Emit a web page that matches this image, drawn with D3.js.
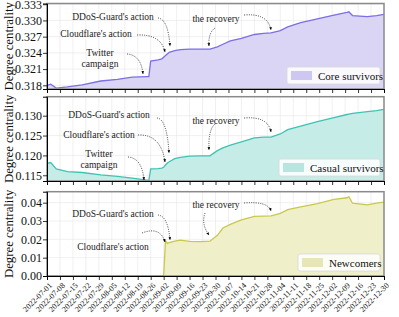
<!DOCTYPE html>
<html><head><meta charset="utf-8">
<script src="https://cdn.jsdelivr.net/npm/d3@7"></script>
<style>body{margin:0;background:#fff}svg{display:block}text{font-family:"Liberation Serif","Times New Roman",serif}</style>
</head><body><svg id="c" width="399" height="317"></svg>
<script>
const dates = ["2022-07-01","2022-07-03","2022-07-06","2022-07-12","2022-07-20","2022-07-30","2022-08-08","2022-08-16","2022-08-24","2022-08-25","2022-08-26","2022-08-30","2022-09-01","2022-09-02","2022-09-03","2022-09-04","2022-09-05","2022-09-08","2022-09-11","2022-09-16","2022-09-22","2022-09-27","2022-10-01","2022-10-04","2022-10-08","2022-10-14","2022-10-21","2022-10-26","2022-10-30","2022-11-04","2022-11-08","2022-11-15","2022-11-24","2022-12-03","2022-12-10","2022-12-11","2022-12-13","2022-12-21","2022-12-26","2022-12-30"];
const coreValues = [0.3180,0.3182,0.3175,0.3177,0.3181,0.3188,0.3191,0.3195,0.3196,0.3196,0.3225,0.3227,0.3229,0.3232,0.3235,0.3238,0.3241,0.3244,0.3246,0.3247,0.3247,0.3247,0.3251,0.3256,0.3262,0.3267,0.3274,0.3276,0.3277,0.3281,0.3288,0.3296,0.3303,0.3310,0.3315,0.3316,0.3309,0.3307,0.3309,0.3311];
const casualValues = [0.1180,0.1182,0.1166,0.1159,0.1157,0.1151,0.1147,0.1143,0.1138,0.1137,0.1166,0.1167,0.1168,0.1170,0.1176,0.1181,0.1184,0.1192,0.1195,0.1198,0.1199,0.1199,0.1212,0.1219,0.1226,0.1234,0.1244,0.1246,0.1246,0.1254,0.1265,0.1274,0.1285,0.1295,0.1303,0.1304,0.1306,0.1310,0.1313,0.1316];
const newValues = [0,0,0,0,0,0,0,0,0,0,0,0,0,0,0.0193,0.0178,0.0182,0.0190,0.0196,0.0189,0.0188,0.0190,0.0222,0.0262,0.0282,0.0306,0.0325,0.0327,0.0328,0.0342,0.0362,0.0377,0.0395,0.0418,0.0427,0.0433,0.0397,0.0388,0.0398,0.0403];
const tickDates = ["2022-07-01","2022-07-08","2022-07-15","2022-07-22","2022-07-29","2022-08-05","2022-08-12","2022-08-19","2022-08-26","2022-09-02","2022-09-09","2022-09-16","2022-09-23","2022-09-30","2022-10-07","2022-10-14","2022-10-21","2022-10-28","2022-11-04","2022-11-11","2022-11-18","2022-11-25","2022-12-02","2022-12-09","2022-12-16","2022-12-23","2022-12-30"];
const coreTicks = [0.318,0.321,0.324,0.327,0.330,0.333];
const casualTicks = [0.115,0.120,0.125,0.130];
const newTicks = [0.00,0.01,0.02,0.03,0.04];
const seriesNames = ["Core survivors","Casual survivors","Newcomers"];

const parse = d3.utcParse("%Y-%m-%d");
const svg = d3.select("#c");
const L = 47, R = 384;
const x = d3.scaleUtc().domain([parse("2022-07-01"), parse("2022-12-30")]).range([L, R]);

const panels = [
  {vals: coreValues, ticks: coreTicks, fmt: ".3f", dom: [0.31732, 0.33313], top: 3.5, bot: 89, line: "#7b6ee6", fill: "#dad5f5", sw: "#cdc7f2", legW: 93, name: seriesNames[0],
   ann: [
     {t:["DDoS-Guard's action"], x:113, y:20},
     {t:["Cloudflare's action"], x:96, y:37},
     {t:["Twitter","campaign"], x:100, y:56},
     {t:["the recovery"], x:216, y:22}
   ],
   arr: [[158,18,168,19,170,46],[137,35,161,34,165,52],[127,54,141,55,143,74],[244,15,268,13,271,30],[215,28,208,33,209,46]]},
  {vals: casualValues, ticks: casualTicks, fmt: ".3f", dom: [0.11356, 0.13478], top: 96.7, bot: 181, line: "#3fc2b3", fill: "#c6ece7", sw: "#b7e6e0", legW: 101, name: seriesNames[1],
   ann: [
     {t:["DDoS-Guard's action"], x:109, y:118},
     {t:["Cloudflare's action"], x:99, y:138},
     {t:["Twitter","campaign"], x:99, y:157},
     {t:["the recovery"], x:216, y:124}
   ],
   arr: [[157,118,167,119,169,153],[138,135,161,134,165,162],[128,157,142,158,144,180],[244,118,268,116,271,132],[215,124,208,130,209,150]]},
  {vals: newValues, ticks: newTicks, fmt: ".2f", dom: [0, 0.046], top: 191.7, bot: 276, line: "#c9c84c", fill: "#efefca", sw: "#e6e6b8", legW: 82, name: seriesNames[2],
   ann: [
     {t:["DDoS-Guard's action"], x:113, y:217},
     {t:["Cloudflare's action"], x:113, y:250},
     {t:["the recovery"], x:216, y:208}
   ],
   arr: [[158,215,168,216,170,240],[142,233,160,226,165,242],[244,203,268,201,271,211],[205,213,201,224,209,235]]}
];

const defs = svg.append("defs");
defs.append("marker").attr("id","ah").attr("viewBox","0 0 10 10").attr("refX",9).attr("refY",5)
  .attr("markerWidth",4).attr("markerHeight",4).attr("orient","auto")
  .append("path").attr("d","M0,1 L10,5 L0,9 z").attr("fill","#000");

const td = tickDates.map(parse);
const data = dates.map(parse);

panels.forEach((p, i) => {
  const y = d3.scaleLinear().domain(p.dom).range([p.bot, p.top]);
  const g = svg.append("g");
  g.append("g").selectAll("line").data(td).join("line")
    .attr("x1", d => x(d)).attr("x2", d => x(d)).attr("y1", p.top).attr("y2", p.bot)
    .attr("stroke", "#e6e6e6").attr("stroke-width", 0.6);
  g.append("g").selectAll("line").data(p.ticks).join("line")
    .attr("x1", L).attr("x2", R).attr("y1", d => y(d)).attr("y2", d => y(d))
    .attr("stroke", "#e6e6e6").attr("stroke-width", 0.6);
  const pts = data.map((d, k) => [d, p.vals[k]]);
  g.append("path").datum(pts)
    .attr("d", d3.area().x(d => x(d[0])).y0(p.bot).y1(d => y(d[1])))
    .attr("fill", p.fill);
  g.append("path").datum(pts)
    .attr("d", d3.line().x(d => x(d[0])).y(d => y(d[1])))
    .attr("fill", "none").attr("stroke", p.line).attr("stroke-width", 1.3);
  g.append("rect").attr("x", L).attr("y", p.top).attr("width", R - L).attr("height", p.bot - p.top)
    .attr("fill", "none").attr("stroke", "#8a8a8a").attr("stroke-width", 1.5);
  const ax = g.append("g").attr("transform", `translate(0,${p.bot})`)
    .call(d3.axisBottom(x).tickValues(td).tickSize(4).tickFormat(d3.utcFormat("%Y-%m-%d")));
  ax.select(".domain").attr("stroke", "#000").attr("stroke-width", 1);
  ax.selectAll(".tick line").attr("stroke", "#000").attr("stroke-width", 0.8);
  if (i < 2) ax.selectAll(".tick text").remove();
  else ax.selectAll(".tick text").attr("font-size", 8).attr("fill", "#111")
    .attr("text-anchor", "end").attr("x", 0).attr("y", 0).attr("dx", 0).attr("dy", 0)
    .attr("transform", "translate(5,10) rotate(-45)");
  const ay = g.append("g").attr("transform", `translate(${L},0)`)
    .call(d3.axisLeft(y).tickValues(p.ticks).tickSize(4).tickFormat(d3.format(p.fmt)));
  ay.select(".domain").attr("stroke", "#000").attr("stroke-width", 1);
  ay.selectAll(".tick line").attr("stroke", "#000").attr("stroke-width", 0.8);
  ay.selectAll(".tick text").attr("font-size", 12).attr("fill", "#111").attr("x", -5);
  g.append("text").attr("transform", `translate(13,${(p.top + p.bot) / 2}) rotate(-90)`)
    .attr("text-anchor", "middle").attr("font-size", 12.8).attr("fill", "#111").text("Degree centrality");
  p.ann.forEach(a => {
    const t = g.append("text").attr("text-anchor", "middle").attr("font-size", 9.5).attr("fill", "#222");
    a.t.forEach((s, k) => t.append("tspan").attr("x", a.x).attr("y", a.y + k * 11).text(s));
  });
  p.arr.forEach(c => {
    g.append("path").attr("d", `M${c[0]},${c[1]} Q${c[2]},${c[3]} ${c[4]},${c[5]}`)
      .attr("fill", "none").attr("stroke", "#111").attr("stroke-width", 0.8)
      .attr("stroke-dasharray", "1,1.3").attr("marker-end", "url(#ah)");
  });
  const lh = 17, lx = R - 4 - p.legW, ly = p.bot - 5 - lh;
  const lg = g.append("g");
  lg.append("rect").attr("x", lx).attr("y", ly).attr("width", p.legW).attr("height", lh).attr("rx", 2)
    .attr("fill", "#fff").attr("fill-opacity", 0.85).attr("stroke", "#d8d8d8").attr("stroke-width", 0.8);
  lg.append("rect").attr("x", lx + 4).attr("y", ly + 4).attr("width", 21).attr("height", 9).attr("fill", p.sw);
  lg.append("text").attr("x", lx + 31).attr("y", ly + 12.5).attr("font-size", 11).attr("fill", "#111").text(p.name);
});
</script></body></html>
